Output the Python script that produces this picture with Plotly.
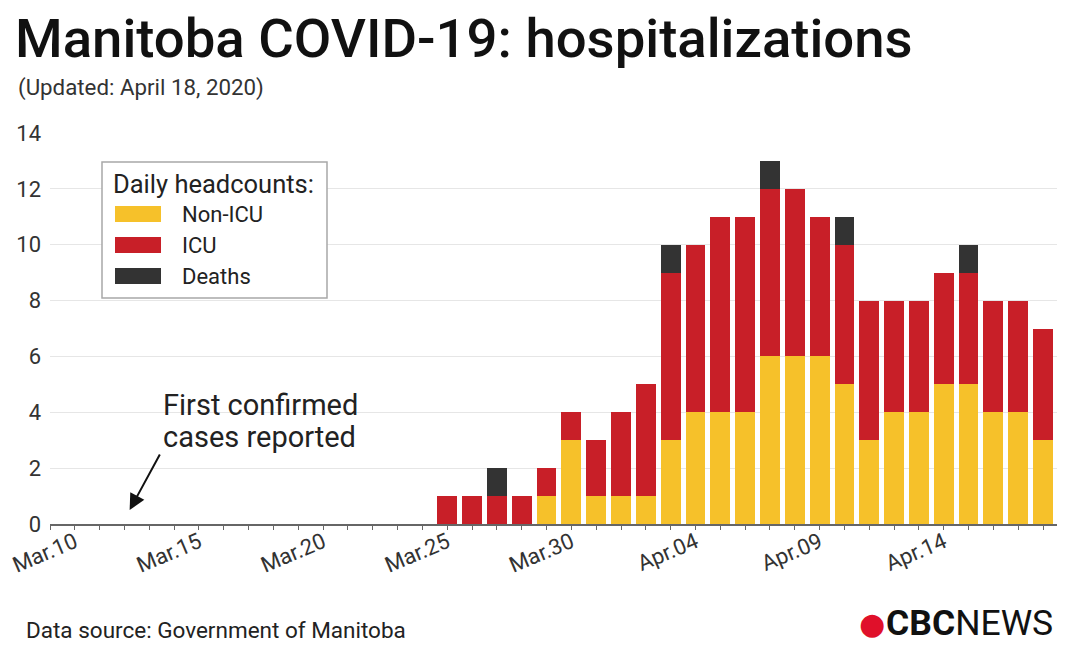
import plotly.graph_objects as go

# ---- data ----
dates = ["2020-03-25", "2020-03-26", "2020-03-27", "2020-03-28", "2020-03-29",
         "2020-03-30", "2020-03-31", "2020-04-01", "2020-04-02", "2020-04-03",
         "2020-04-04", "2020-04-05", "2020-04-06", "2020-04-07", "2020-04-08",
         "2020-04-09", "2020-04-10", "2020-04-11", "2020-04-12", "2020-04-13",
         "2020-04-14", "2020-04-15", "2020-04-16", "2020-04-17", "2020-04-18"]
non_icu = [0, 0, 0, 0, 1, 3, 1, 1, 1, 3, 4, 4, 4, 6, 6, 6, 5, 3, 4, 4, 5, 5, 4, 4, 3]
icu     = [1, 1, 1, 1, 1, 1, 2, 3, 4, 6, 6, 7, 7, 6, 6, 5, 5, 5, 4, 4, 4, 4, 4, 4, 4]
deaths  = [0, 0, 1, 0, 0, 0, 0, 0, 0, 1, 0, 0, 0, 1, 0, 0, 1, 0, 0, 0, 0, 1, 0, 0, 0]

tick_dates = ["2020-03-10", "2020-03-15", "2020-03-20", "2020-03-25",
              "2020-03-30", "2020-04-04", "2020-04-09", "2020-04-14"]
tick_labels = ["Mar.10", "Mar.15", "Mar.20", "Mar.25",
               "Mar.30", "Apr.04", "Apr.09", "Apr.14"]
y_ticks = [0, 2, 4, 6, 8, 10, 12, 14]

series_names = ["Non-ICU", "ICU", "Deaths"]
series_colors = ["#F6C12A", "#C81F28", "#333333"]

DAY_MS = 86400000
FONT = "Roboto"
TXT = "#222222"

fig = go.Figure()
for name, vals, col in zip(series_names, [non_icu, icu, deaths], series_colors):
    fig.add_trace(go.Bar(
        x=dates, y=vals, name=name, marker=dict(color=col, line=dict(width=0)),
        width=0.8 * DAY_MS, showlegend=False,
    ))

fig.update_layout(
    width=1080, height=654,
    barmode="stack",
    plot_bgcolor="white", paper_bgcolor="white",
    margin=dict(l=50, r=23, t=133, b=130),
    font=dict(family=FONT, color=TXT),
    title=dict(
        text="Manitoba COVID-19: hospitalizations",
        font=dict(family=FONT, size=54.5, color="#111111", weight=500),
        xref="container", x=15 / 1080, xanchor="left",
        yref="container", y=1 - 19 / 654, yanchor="top",
    ),
)

fig.update_xaxes(
    type="date", automargin=False,
    range=["2020-03-09", "2020-04-18 13:30"],
    tickvals=tick_dates, ticktext=tick_labels,
    tickangle=-23,
    tickfont=dict(size=22, color="#333333"),
    ticks="outside", ticklen=4, tickwidth=1, tickcolor="#666666",
    minor=dict(dtick=DAY_MS, tick0="2020-03-10", ticks="outside",
               ticklen=4, tickwidth=1, tickcolor="#666666", showgrid=False),
    showline=True, linecolor="#666666", linewidth=2,
    showgrid=False, zeroline=False,
    ticklabelstandoff=-9,
)
fig.update_yaxes(
    automargin=False,
    range=[0, 14], tickvals=y_ticks,
    tickfont=dict(size=22, color="#333333"),
    showgrid=True, gridcolor="#E6E6E6", gridwidth=1,
    zeroline=False, showline=False, ticks="",
    ticklabelstandoff=8,
)

# pixel -> paper helpers (plot area: x 50..1057, y 133..524)
def px(xp):
    return (xp - 50) / 1007.0

def py(yp):
    return (524 - yp) / 391.0

ann = []
ann.append(dict(text="(Updated: April 18, 2020)", xref="paper", yref="paper",
                x=px(16), y=py(88), xanchor="left", yanchor="middle",
                showarrow=False, font=dict(size=22.3, color="#333333")))
ann.append(dict(text="Data source: Government of Manitoba", xref="paper", yref="paper",
                x=px(24), y=py(630), xanchor="left", yanchor="middle",
                showarrow=False, font=dict(size=22.5, color="#222222")))
# CBC News logo as text
ann.append(dict(text="●", xref="paper", yref="paper",
                x=px(857), y=py(623), xanchor="left", yanchor="middle",
                showarrow=False, font=dict(size=30, color="#E0102A", family="DejaVu Sans")))
ann.append(dict(text="<b>CBC</b>NEWS", xref="paper", yref="paper",
                x=px(884), y=py(623), xanchor="left", yanchor="middle",
                showarrow=False, font=dict(size=35.5, color="#111111")))

# annotation: first confirmed cases (two lines)
note_lines = ["First confirmed", "cases reported"]
note_y = [4.27, 3.13]
for line, yv in zip(note_lines, note_y):
    ann.append(dict(text=line, xref="x", yref="y",
                    x="2020-03-13 11:00", y=yv, xanchor="left", yanchor="middle",
                    align="left", showarrow=False, font=dict(size=29, color="#222222")))
ann.append(dict(text="", xref="x", yref="y", x="2020-03-12 05:00", y=0.5,
                ax=31, ay=-57, showarrow=True, arrowhead=2, arrowsize=1.6,
                arrowwidth=2, arrowcolor="#111111"))

# manual legend
shapes = []
shapes.append(dict(type="rect", xref="paper", yref="paper",
                   x0=px(102), x1=px(327), y0=py(298), y1=py(162),
                   line=dict(color="#A8A8A8", width=1.5), fillcolor="white", layer="above"))
ann.append(dict(text="Daily headcounts:", xref="paper", yref="paper",
                x=px(111), y=py(184), xanchor="left", yanchor="middle",
                showarrow=False, font=dict(size=25.5, color="#222222")))
sw_y = [214, 245, 276]
for name, col, yc in zip(series_names, series_colors, sw_y):
    shapes.append(dict(type="rect", xref="paper", yref="paper",
                       x0=px(115), x1=px(161), y0=py(yc + 8), y1=py(yc - 8),
                       line=dict(width=0), fillcolor=col, layer="above"))
    ann.append(dict(text=name, xref="paper", yref="paper",
                    x=px(180), y=py(yc), xanchor="left", yanchor="middle",
                    showarrow=False, font=dict(size=22, color="#222222")))

fig.update_layout(annotations=ann, shapes=shapes)
fig.write_html("out.html", config={"displayModeBar": False},
               post_script="document.body.style.margin='0';")
